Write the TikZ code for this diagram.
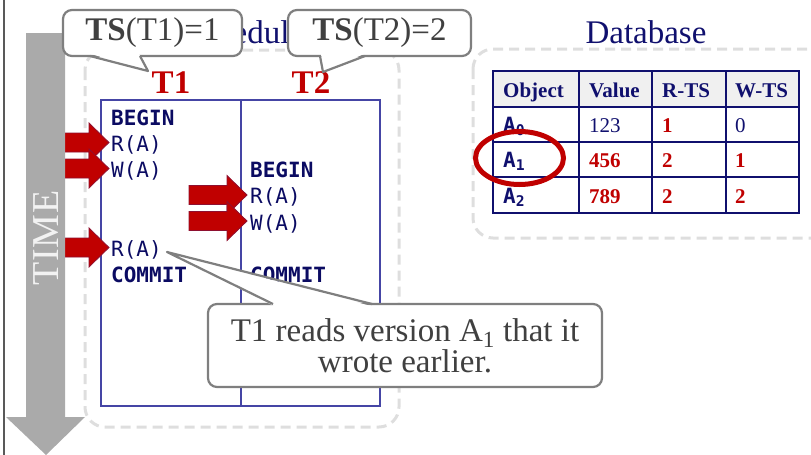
\documentclass[tikz,border=0pt]{standalone}
\usepackage{fontspec}
\setmainfont{Liberation Serif}
\newfontfamily\codefont{DejaVu Sans Mono}
\definecolor{navy}{HTML}{10106E}
\definecolor{codeblue}{HTML}{0B0B62}
\definecolor{gridblue}{HTML}{4545A5}
\definecolor{darkred}{HTML}{C00000}
\definecolor{arrowedge}{HTML}{8E1030}
\definecolor{timegray}{HTML}{AAAAAA}
\definecolor{panelgray}{HTML}{DEDEDE}
\definecolor{notegray}{HTML}{7F7F7F}
\definecolor{notetext}{HTML}{404040}
\definecolor{headfill}{HTML}{F0F0F0}
\newcommand{\redarrow}[2]{%
  \filldraw[darkred, draw=arrowedge, line width=0.8]
    (#1,#2) -- ++(-20,-19.5) -- ++(0,10) -- ++(-38,0) -- ++(0,19)
    -- ++(38,0) -- ++(0,10) -- cycle;}
\begin{document}
\begin{tikzpicture}[x=1pt,y=-1pt,
  title/.style={font=\fontsize{33}{36}\selectfont, text=navy, inner sep=0},
  tlabel/.style={font=\bfseries\fontsize{33}{36}\selectfont, text=darkred, inner sep=0, anchor=base},
  panel/.style={draw=panelgray, line width=3, dash pattern=on 10pt off 6pt, rounded corners=20pt},
  grid/.style={draw=gridblue, line width=1.1},
  code/.style={font=\codefont\fontsize{21}{24}\selectfont, text=codeblue, anchor=base west, inner sep=0},
  kw/.style={font=\codefont\bfseries\fontsize{21}{24}\selectfont, text=codeblue, anchor=base west, inner sep=0},
  dbline/.style={draw=navy, line width=1.4},
  cell/.style={font=\fontsize{21}{24}\selectfont, text=navy, anchor=base west, inner sep=0},
  hcell/.style={cell, font=\bfseries\fontsize{21}{24}\selectfont},
  rcell/.style={cell, font=\bfseries\fontsize{21}{24}\selectfont, text=darkred},
  objcell/.style={cell, font=\codefont\bfseries\fontsize{21}{24}\selectfont},
  callout/.style={draw=notegray, fill=white, line width=2.2, rounded corners=9pt,
    text=notetext, font=\fontsize{33}{31}\selectfont, inner sep=0, align=center},
  pointer/.style={draw=notegray, line width=2.2, line join=round},
]
\useasboundingbox (0,0) rectangle (811,455);
\clip (0,0) rectangle (811,455);

% left frame edge
\draw[black!65, line width=1.2] (4,0) -- (4,455);

% headings
\node[title, anchor=base west] (schedtitle) at (183,43) {Schedule};
\node[title, anchor=base] (dbtitle) at (646,43) {Database};

% dashed panels
\draw[panel] (85,50) rectangle (399,427);
\draw[panel] (473,49) rectangle (850,238);

% schedule columns
\draw[grid] (101,100) rectangle (380,406);
\draw[grid] (241,100) -- (241,406);
\node[tlabel] (t1) at (171,93) {T1};
\node[tlabel] (t2) at (311,93) {T2};

% time steps (markers first, operations on top)
\redarrow{109}{142.5}
\redarrow{109}{168.5}
\redarrow{247}{195}
\redarrow{247}{221}
\redarrow{109}{247.5}

% T1 operations
\node[kw]   (t1begin)  at (111,125)   {BEGIN};
\node[code] (t1read)   at (111,151.3) {R(A)};
\node[code] (t1write)  at (111,177.6) {W(A)};
\node[code] (t1read2)  at (111,256.5) {R(A)};
\node[kw]   (t1commit) at (111,282.8) {COMMIT};
% T2 operations
\node[kw]   (t2begin)  at (250,177.6) {BEGIN};
\node[code] (t2read)   at (250,203.9) {R(A)};
\node[code] (t2write)  at (250,230.2) {W(A)};
\node[kw]   (t2commit) at (250,282.8) {COMMIT};

% time axis
\fill[timegray] (26,33) -- (65,33) -- (65,417) -- (85,417) -- (46,455)
  -- (6,417) -- (26,417) -- cycle;
\node[rotate=90, text=white!95!black, font=\fontsize{38}{40}\selectfont, inner sep=0]
  (time) at (46,238) {T\kern1pt I\kern1pt M\kern1pt E};

% database table
\fill[headfill] (493,71) rectangle (799,107);
\draw[dbline] (493,71) rectangle (799,213);
\foreach \yy in {107,142,177} \draw[dbline] (493,\yy) -- (799,\yy);
\foreach \xx in {579,652,726} \draw[dbline] (\xx,71) -- (\xx,213);
\node[hcell] (hobj) at (503,97) {Object};
\node[hcell] (hval) at (589,97) {Value};
\node[hcell] (hrts) at (662,97) {R-TS};
\node[hcell] (hwts) at (735,97) {W-TS};
\node[objcell] (a0) at (503,132) {A\textsubscript{0}};
\node[cell]  (v0) at (589,132) {123};
\node[rcell] (r0) at (662,132) {1};
\node[cell]  (w0) at (735,132) {0};
\node[objcell] (a1) at (503,167) {A\textsubscript{1}};
\node[rcell] (v1) at (589,167) {456};
\node[rcell] (r1) at (662,167) {2};
\node[rcell] (w1) at (735,167) {1};
\node[objcell] (a2) at (503,203) {A\textsubscript{2}};
\node[rcell] (v2) at (589,203) {789};
\node[rcell] (r2) at (662,203) {2};
\node[rcell] (w2) at (735,203) {2};
\draw[darkred, line width=5] (519.5,158) ellipse [x radius=44, y radius=26.5];

% timestamp callouts
\node[callout, minimum width=179, minimum height=46] (ts1) at (152.5,33)
  {\textbf{TS}(T1)=1};
\coordinate (ts1tip) at (148,71);
\fill[white] (91,54) -- (ts1tip) -- (139,54) -- cycle;
\draw[pointer] (90,56) -- (ts1tip) -- (140,56);

\node[callout, minimum width=183, minimum height=46] (ts2) at (379.5,33)
  {\textbf{TS}(T2)=2};
\coordinate (ts2tip) at (323,72);
\fill[white] (321,54) -- (ts2tip) -- (364,54) -- cycle;
\draw[pointer] (320,56) -- (ts2tip) -- (365,56);

% explanation callout
\node[callout, minimum width=394, minimum height=83] (note) at (405,345.5)
  {T1 reads version A\textsubscript{1} that it\\wrote earlier.};
\coordinate (notetip) at (167,252);
\fill[white] (274,306) -- (notetip) -- (371,306) -- cycle;
\draw[pointer] (273,304) -- (notetip) -- (372,304);
\end{tikzpicture}
\end{document}
